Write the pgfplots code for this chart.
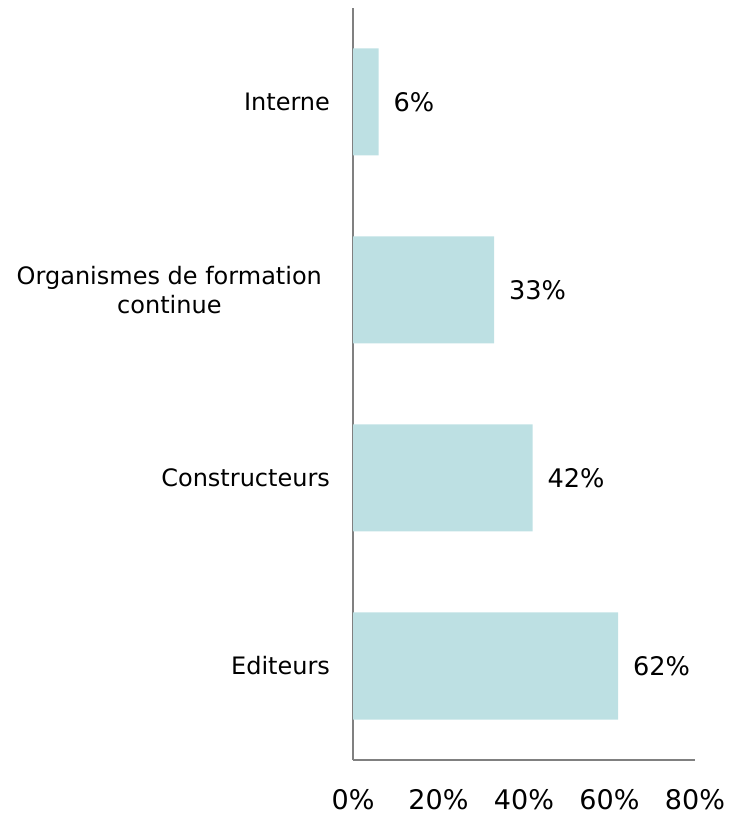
\documentclass[border=0pt]{standalone}
\usepackage{pgfplots}
\pgfplotsset{compat=1.18}
\usepackage{fontspec}
\setmainfont{DejaVu Sans}
\definecolor{barc}{HTML}{BDE0E3}
\definecolor{axc}{HTML}{808080}
\begin{document}
\begin{tikzpicture}
\path[use as bounding box] (-176.5pt,-28.5pt) rectangle (189pt,380pt);
\begin{axis}[
  at={(0pt,0pt)}, anchor=south west,
  scale only axis,
  width=171pt, height=376pt,
  xbar,
  xmin=0, xmax=80,
  ymin=-0.5, ymax=3.5,
  bar width=53.5pt,
  axis x line*=bottom,
  axis y line*=left,
  axis line style={draw=axc, line width=1pt},
  /pgf/number format/assume math mode=true,
  xtick={0,20,40,60,80},
  xticklabels={0\%,20\%,40\%,60\%,80\%},
  xticklabel style={font=\fontsize{13.5}{16}\selectfont, yshift=-11pt},
  ytick={0,1,2,3},
  yticklabels={Editeurs,Constructeurs,{Organismes de formation\hspace*{4pt}\\continue\hspace*{4pt}},Interne},
  yticklabel style={font=\fontsize{12}{14.5}\selectfont, align=center, xshift=-8pt},
  major tick length=0pt,
  nodes near coords={\pgfmathprintnumber{\pgfplotspointmeta}\%},
  nodes near coords style={font=\fontsize{12.8}{15}\selectfont, anchor=west, xshift=4pt},
  clip=false,
]
\addplot[draw=none, fill=barc] coordinates {(62,0) (42,1) (33,2) (6,3)};
\end{axis}
\end{tikzpicture}
\end{document}
